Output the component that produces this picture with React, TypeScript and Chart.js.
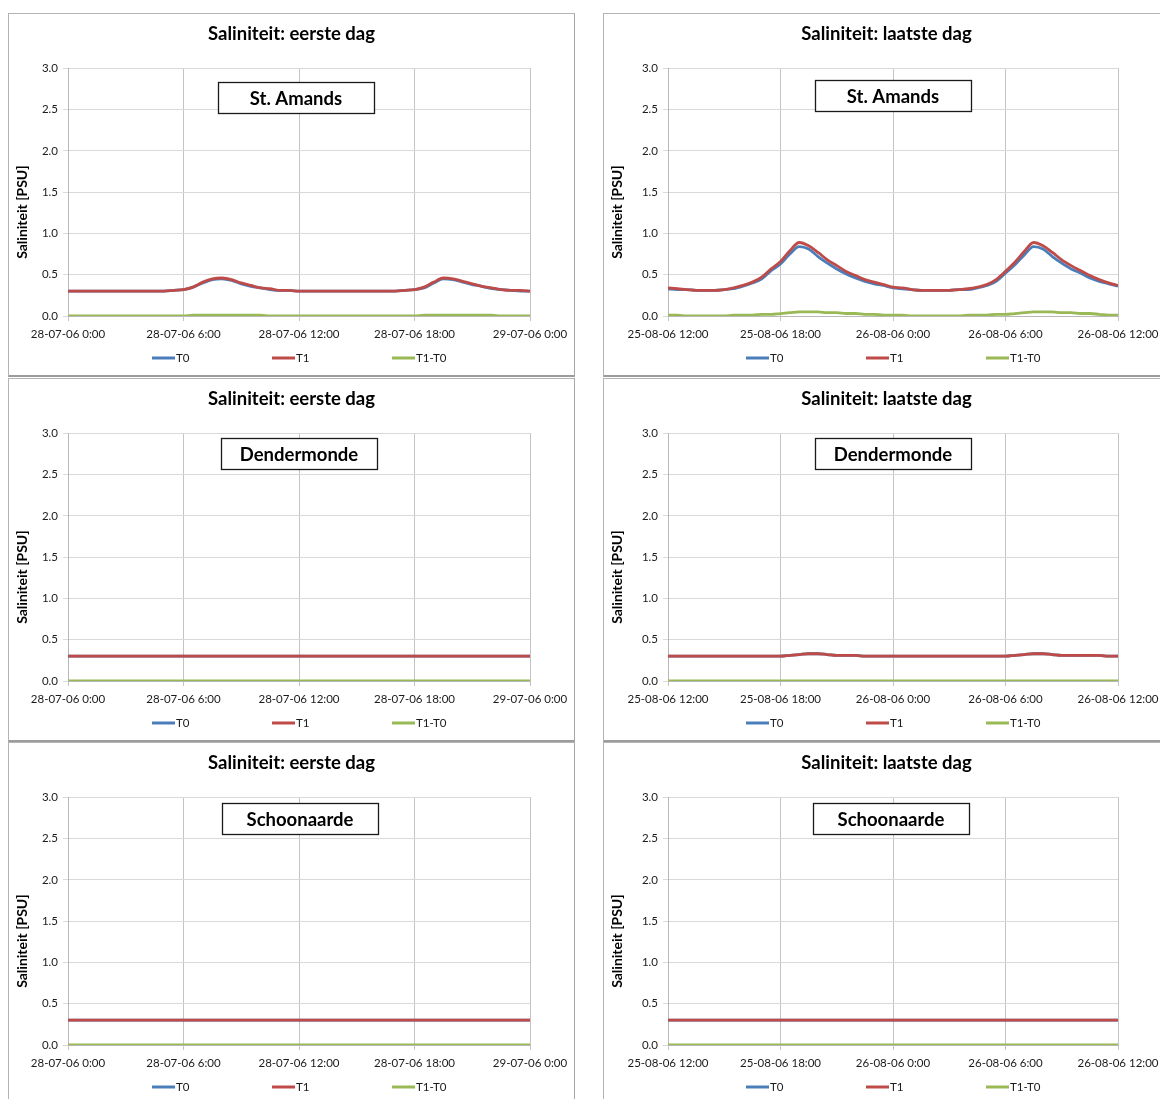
import React, { useEffect, useRef } from 'react';
import { Chart, registerables } from 'chart.js';

Chart.register(...registerables);

const FONT = "Lato, 'Open Sans', sans-serif";

// x positions in hours since the start of each window
const HOURS = [0, 0.5, 1, 1.5, 2, 2.5, 3, 3.5, 4, 4.5, 5, 5.5, 6, 6.5, 7, 7.5, 8, 8.5, 9, 9.5, 10, 10.5, 11, 11.5, 12, 12.5, 13, 13.5, 14, 14.5, 15, 15.5, 16, 16.5, 17, 17.5, 18, 18.5, 19, 19.5, 20, 20.5, 21, 21.5, 22, 22.5, 23, 23.5, 24];
const HOURS_HOURLY = [0, 1, 2, 3, 4, 5, 6, 7, 8, 9, 10, 11, 12, 13, 14, 15, 16, 17, 18, 19, 20, 21, 22, 23, 24];

const SERIES_LABELS = ['T0', 'T1', 'T1-T0'];
const SERIES_COLORS = ['#4a7ebb', '#be4b48', '#98b954'];

const TITLE_FIRST = 'Saliniteit: eerste dag';
const TITLE_LAST = 'Saliniteit: laatste dag';
const Y_TITLE = 'Saliniteit [PSU]';
const X_TICKS_FIRST = ['28-07-06 0:00', '28-07-06 6:00', '28-07-06 12:00', '28-07-06 18:00', '29-07-06 0:00'];
const X_TICKS_LAST = ['25-08-06 12:00', '25-08-06 18:00', '26-08-06 0:00', '26-08-06 6:00', '26-08-06 12:00'];

// St. Amands – first day (half-hourly)
const SA_FIRST_T0 = [0.30, 0.30, 0.30, 0.30, 0.30, 0.30, 0.30, 0.30, 0.30, 0.30, 0.30, 0.31, 0.32, 0.35, 0.40, 0.44, 0.45, 0.43, 0.39, 0.36, 0.34, 0.32, 0.31, 0.31, 0.30, 0.30, 0.30, 0.30, 0.30, 0.30, 0.30, 0.30, 0.30, 0.30, 0.30, 0.31, 0.32, 0.34, 0.40, 0.45, 0.44, 0.41, 0.38, 0.36, 0.33, 0.32, 0.31, 0.30, 0.30];
const SA_FIRST_T1 = [0.30, 0.30, 0.30, 0.30, 0.30, 0.30, 0.30, 0.30, 0.30, 0.30, 0.30, 0.31, 0.32, 0.35, 0.41, 0.45, 0.46, 0.44, 0.40, 0.37, 0.34, 0.33, 0.31, 0.31, 0.30, 0.30, 0.30, 0.30, 0.30, 0.30, 0.30, 0.30, 0.30, 0.30, 0.30, 0.31, 0.32, 0.35, 0.41, 0.46, 0.45, 0.42, 0.39, 0.36, 0.34, 0.32, 0.31, 0.31, 0.30];
const SA_FIRST_DIFF = [0.00, 0.00, 0.00, 0.00, 0.00, 0.00, 0.00, 0.00, 0.00, 0.00, 0.00, 0.00, 0.00, 0.01, 0.01, 0.01, 0.01, 0.01, 0.01, 0.01, 0.01, 0.00, 0.00, 0.00, 0.00, 0.00, 0.00, 0.00, 0.00, 0.00, 0.00, 0.00, 0.00, 0.00, 0.00, 0.00, 0.00, 0.01, 0.01, 0.01, 0.01, 0.01, 0.01, 0.01, 0.01, 0.00, 0.00, 0.00, 0.00];

// St. Amands – last day (half-hourly)
const SA_LAST_T0 = [0.33, 0.32, 0.32, 0.31, 0.31, 0.31, 0.32, 0.33, 0.36, 0.40, 0.45, 0.55, 0.63, 0.75, 0.84, 0.81, 0.72, 0.64, 0.57, 0.51, 0.46, 0.42, 0.39, 0.37, 0.34, 0.33, 0.32, 0.31, 0.31, 0.31, 0.31, 0.32, 0.32, 0.34, 0.37, 0.42, 0.52, 0.62, 0.74, 0.84, 0.81, 0.72, 0.64, 0.57, 0.52, 0.46, 0.42, 0.39, 0.36];
const SA_LAST_T1 = [0.34, 0.33, 0.32, 0.31, 0.31, 0.31, 0.32, 0.34, 0.37, 0.41, 0.47, 0.57, 0.66, 0.79, 0.89, 0.85, 0.77, 0.68, 0.61, 0.54, 0.49, 0.44, 0.41, 0.38, 0.35, 0.34, 0.32, 0.31, 0.31, 0.31, 0.31, 0.32, 0.33, 0.35, 0.38, 0.44, 0.54, 0.65, 0.78, 0.89, 0.85, 0.77, 0.68, 0.61, 0.55, 0.49, 0.44, 0.40, 0.37];
const SA_LAST_DIFF = [0.01, 0.01, 0.00, 0.00, 0.00, 0.00, 0.00, 0.01, 0.01, 0.01, 0.02, 0.02, 0.03, 0.04, 0.05, 0.05, 0.05, 0.04, 0.04, 0.03, 0.03, 0.02, 0.02, 0.01, 0.01, 0.01, 0.00, 0.00, 0.00, 0.00, 0.00, 0.00, 0.01, 0.01, 0.01, 0.02, 0.02, 0.03, 0.04, 0.05, 0.05, 0.05, 0.04, 0.04, 0.03, 0.03, 0.02, 0.01, 0.01];

// Dendermonde – first day (hourly)
const DM_FIRST_T0 = [0.30, 0.30, 0.30, 0.30, 0.30, 0.30, 0.30, 0.30, 0.30, 0.30, 0.30, 0.30, 0.30, 0.30, 0.30, 0.30, 0.30, 0.30, 0.30, 0.30, 0.30, 0.30, 0.30, 0.30, 0.30];
const DM_FIRST_T1 = [0.30, 0.30, 0.30, 0.30, 0.30, 0.30, 0.30, 0.30, 0.30, 0.30, 0.30, 0.30, 0.30, 0.30, 0.30, 0.30, 0.30, 0.30, 0.30, 0.30, 0.30, 0.30, 0.30, 0.30, 0.30];
const DM_FIRST_DIFF = [0.00, 0.00, 0.00, 0.00, 0.00, 0.00, 0.00, 0.00, 0.00, 0.00, 0.00, 0.00, 0.00, 0.00, 0.00, 0.00, 0.00, 0.00, 0.00, 0.00, 0.00, 0.00, 0.00, 0.00, 0.00];

// Dendermonde – last day (half-hourly; difference hourly)
const DM_LAST_T0 = [0.30, 0.30, 0.30, 0.30, 0.30, 0.30, 0.30, 0.30, 0.30, 0.30, 0.30, 0.30, 0.30, 0.31, 0.32, 0.33, 0.33, 0.32, 0.31, 0.31, 0.31, 0.30, 0.30, 0.30, 0.30, 0.30, 0.30, 0.30, 0.30, 0.30, 0.30, 0.30, 0.30, 0.30, 0.30, 0.30, 0.30, 0.31, 0.32, 0.33, 0.33, 0.32, 0.31, 0.31, 0.31, 0.31, 0.31, 0.30, 0.30];
const DM_LAST_T1 = [0.30, 0.30, 0.30, 0.30, 0.30, 0.30, 0.30, 0.30, 0.30, 0.30, 0.30, 0.30, 0.30, 0.31, 0.32, 0.33, 0.33, 0.32, 0.31, 0.31, 0.31, 0.30, 0.30, 0.30, 0.30, 0.30, 0.30, 0.30, 0.30, 0.30, 0.30, 0.30, 0.30, 0.30, 0.30, 0.30, 0.30, 0.31, 0.32, 0.33, 0.33, 0.32, 0.31, 0.31, 0.31, 0.31, 0.31, 0.30, 0.30];
const DM_LAST_DIFF = [0.00, 0.00, 0.00, 0.00, 0.00, 0.00, 0.00, 0.00, 0.00, 0.00, 0.00, 0.00, 0.00, 0.00, 0.00, 0.00, 0.00, 0.00, 0.00, 0.00, 0.00, 0.00, 0.00, 0.00, 0.00];

// Schoonaarde – first day (hourly)
const SC_FIRST_T0 = [0.30, 0.30, 0.30, 0.30, 0.30, 0.30, 0.30, 0.30, 0.30, 0.30, 0.30, 0.30, 0.30, 0.30, 0.30, 0.30, 0.30, 0.30, 0.30, 0.30, 0.30, 0.30, 0.30, 0.30, 0.30];
const SC_FIRST_T1 = [0.30, 0.30, 0.30, 0.30, 0.30, 0.30, 0.30, 0.30, 0.30, 0.30, 0.30, 0.30, 0.30, 0.30, 0.30, 0.30, 0.30, 0.30, 0.30, 0.30, 0.30, 0.30, 0.30, 0.30, 0.30];
const SC_FIRST_DIFF = [0.00, 0.00, 0.00, 0.00, 0.00, 0.00, 0.00, 0.00, 0.00, 0.00, 0.00, 0.00, 0.00, 0.00, 0.00, 0.00, 0.00, 0.00, 0.00, 0.00, 0.00, 0.00, 0.00, 0.00, 0.00];

// Schoonaarde – last day (hourly)
const SC_LAST_T0 = [0.30, 0.30, 0.30, 0.30, 0.30, 0.30, 0.30, 0.30, 0.30, 0.30, 0.30, 0.30, 0.30, 0.30, 0.30, 0.30, 0.30, 0.30, 0.30, 0.30, 0.30, 0.30, 0.30, 0.30, 0.30];
const SC_LAST_T1 = [0.30, 0.30, 0.30, 0.30, 0.30, 0.30, 0.30, 0.30, 0.30, 0.30, 0.30, 0.30, 0.30, 0.30, 0.30, 0.30, 0.30, 0.30, 0.30, 0.30, 0.30, 0.30, 0.30, 0.30, 0.30];
const SC_LAST_DIFF = [0.00, 0.00, 0.00, 0.00, 0.00, 0.00, 0.00, 0.00, 0.00, 0.00, 0.00, 0.00, 0.00, 0.00, 0.00, 0.00, 0.00, 0.00, 0.00, 0.00, 0.00, 0.00, 0.00, 0.00, 0.00];

type PanelCfg = {
  left: number;
  top: number;
  title: string;
  station: string;
  xTicks: string[];
  xs: number[][];
  ys: number[][];
  yWidth: number;
  padRight: number;
  boxDx: number;
  boxDy: number;
};

const PANELS: PanelCfg[] = [
  { left: 8, top: 13, title: TITLE_FIRST, station: 'St. Amands', xTicks: X_TICKS_FIRST, xs: [HOURS, HOURS, HOURS], ys: [SA_FIRST_T0, SA_FIRST_T1, SA_FIRST_DIFF], yWidth: 59, padRight: 44, boxDx: -3, boxDy: 14 },
  { left: 603, top: 13, title: TITLE_LAST, station: 'St. Amands', xTicks: X_TICKS_LAST, xs: [HOURS, HOURS, HOURS], ys: [SA_LAST_T0, SA_LAST_T1, SA_LAST_DIFF], yWidth: 64, padRight: 51, boxDx: 0, boxDy: 12 },
  { left: 8, top: 378, title: TITLE_FIRST, station: 'Dendermonde', xTicks: X_TICKS_FIRST, xs: [HOURS_HOURLY, HOURS_HOURLY, HOURS_HOURLY], ys: [DM_FIRST_T0, DM_FIRST_T1, DM_FIRST_DIFF], yWidth: 59, padRight: 44, boxDx: 0, boxDy: 5 },
  { left: 603, top: 378, title: TITLE_LAST, station: 'Dendermonde', xTicks: X_TICKS_LAST, xs: [HOURS, HOURS, HOURS_HOURLY], ys: [DM_LAST_T0, DM_LAST_T1, DM_LAST_DIFF], yWidth: 64, padRight: 51, boxDx: 0, boxDy: 5 },
  { left: 8, top: 742, title: TITLE_FIRST, station: 'Schoonaarde', xTicks: X_TICKS_FIRST, xs: [HOURS_HOURLY, HOURS_HOURLY, HOURS_HOURLY], ys: [SC_FIRST_T0, SC_FIRST_T1, SC_FIRST_DIFF], yWidth: 59, padRight: 44, boxDx: 1, boxDy: 6 },
  { left: 603, top: 742, title: TITLE_LAST, station: 'Schoonaarde', xTicks: X_TICKS_LAST, xs: [HOURS_HOURLY, HOURS_HOURLY, HOURS_HOURLY], ys: [SC_LAST_T0, SC_LAST_T1, SC_LAST_DIFF], yWidth: 64, padRight: 51, boxDx: -2, boxDy: 6 },
];

const DRAW_ORDER = [3, 2, 1];

const spacedLegend = {
  id: 'spacedLegend',
  afterDraw(chart: any, _args: any, opts: any) {
    const { ctx, chartArea } = chart;
    const cx = (chartArea.left + chartArea.right) / 2;
    const y = chartArea.bottom + opts.offsetY;
    ctx.save();
    ctx.font = `${opts.fontSize}px ${FONT}`;
    ctx.textBaseline = 'middle';
    ctx.textAlign = 'left';
    chart.data.datasets.forEach((ds: any, i: number) => {
      const x0 = cx - opts.groupHalf + i * opts.pitch;
      ctx.strokeStyle = ds.borderColor;
      ctx.lineWidth = 3;
      ctx.beginPath();
      ctx.moveTo(x0, y);
      ctx.lineTo(x0 + opts.lineLen, y);
      ctx.stroke();
      ctx.fillStyle = '#1a1a1a';
      ctx.fillText(ds.label, x0 + opts.lineLen + 1, y + 0.5);
    });
    ctx.restore();
  },
};

const stationBox = {
  id: 'stationBox',
  afterDraw(chart: any, _args: any, opts: any) {
    const { ctx, chartArea } = chart;
    const cx = (chartArea.left + chartArea.right) / 2 + opts.dx;
    const top = chartArea.top + opts.dy;
    const w = 156;
    const h = 31;
    ctx.save();
    ctx.fillStyle = '#ffffff';
    ctx.fillRect(cx - w / 2, top, w, h);
    ctx.strokeStyle = '#1a1a1a';
    ctx.lineWidth = 1.3;
    ctx.strokeRect(Math.round(cx - w / 2) + 0.5, Math.round(top) + 0.5, w, h);
    ctx.fillStyle = '#000000';
    ctx.font = `bold 18.5px ${FONT}`;
    ctx.textAlign = 'center';
    ctx.textBaseline = 'middle';
    ctx.fillText(opts.text, cx, top + h / 2 + 1);
    ctx.restore();
  },
};

// vertical axis title, drawn a little below the middle of the plot as in the original
const axisTitle = {
  id: 'axisTitle',
  afterDraw(chart: any, _args: any, opts: any) {
    const { ctx, chartArea } = chart;
    ctx.save();
    ctx.translate(opts.x, (chartArea.top + chartArea.bottom) / 2 + opts.dy);
    ctx.rotate(-Math.PI / 2);
    ctx.font = `bold ${opts.size}px ${FONT}`;
    ctx.fillStyle = '#000';
    ctx.textAlign = 'center';
    ctx.textBaseline = 'middle';
    ctx.fillText(opts.text, 0, 0);
    ctx.restore();
  },
};

const CANVAS_W = 565;
const CANVAS_H = 361;

function Panel({ cfg }: { cfg: PanelCfg }) {
  const ref = useRef<HTMLCanvasElement>(null);
  useEffect(() => {
    const chart = new Chart(ref.current as HTMLCanvasElement, {
      type: 'line',
      data: {
        datasets: SERIES_LABELS.map((label, i) => ({
          label,
          data: cfg.xs[i].map((x, j) => ({ x, y: cfg.ys[i][j] })),
          borderColor: SERIES_COLORS[i],
          backgroundColor: SERIES_COLORS[i],
          borderWidth: 2.8,
          pointRadius: 0,
          cubicInterpolationMode: 'monotone',
          order: DRAW_ORDER[i],
        })),
      },
      options: {
        animation: false,
        responsive: false,
        maintainAspectRatio: false,
        layout: { padding: { left: 0, right: 0, top: 0, bottom: 35 } },
        plugins: {
          legend: { display: false },
          tooltip: { enabled: false },
          title: {
            display: true,
            text: cfg.title,
            color: '#000',
            font: { family: FONT, size: 18.5, weight: 'bold' },
            padding: { top: 9, bottom: 23 },
          },
          spacedLegend: { offsetY: 42, groupHalf: 147, pitch: 120, lineLen: 23, fontSize: 11.5 },
          stationBox: { text: cfg.station, dx: cfg.boxDx, dy: cfg.boxDy },
          axisTitle: { text: Y_TITLE, x: 13, dy: 20, size: 14 },
        } as any,
        scales: {
          x: {
            type: 'linear',
            min: 0,
            max: 24,
            afterFit: (s: any) => { s.height = 24; },
            ticks: {
              stepSize: 6,
              autoSkip: false,
              maxRotation: 0,
              color: '#1a1a1a',
              font: { family: FONT, size: 11.5 },
              padding: 6,
              callback: (v: any) => cfg.xTicks[Math.round(Number(v) / 6)],
            },
            grid: { color: '#c4c4c4', tickLength: 5 },
            border: { color: '#b8b8b8' },
          },
          y: {
            min: 0,
            max: 3,
            afterFit: (s: any) => { s.width = cfg.yWidth; },
            ticks: {
              stepSize: 0.5,
              color: '#1a1a1a',
              font: { family: FONT, size: 11.5 },
              padding: 5,
              callback: (v: any) => Number(v).toFixed(1),
            },
            grid: { color: '#d9d9d9', tickLength: 5 },
            border: { color: '#b8b8b8' },
          },
          // empty right-hand margin, kept as an invisible axis so the title stays centred on the panel
          yMargin: {
            type: 'linear',
            position: 'right',
            min: 0,
            max: 3,
            afterFit: (s: any) => { s.width = cfg.padRight; },
            ticks: { display: false },
            grid: { display: false, drawTicks: false },
            border: { display: false },
          },
        },
      } as any,
      plugins: [spacedLegend, stationBox, axisTitle],
    });
    return () => chart.destroy();
  }, [cfg]);
  return (
    <div
      style={{
        position: 'absolute',
        left: cfg.left,
        top: cfg.top,
        width: CANVAS_W + 2,
        height: CANVAS_H + 3,
        boxSizing: 'border-box',
        borderLeft: '1px solid #b4b4b4',
        borderTop: '1px solid #b4b4b4',
        borderRight: '1px solid #a8a8a8',
        borderBottom: '2px solid #9c9c9c',
        background: '#fff',
      }}
    >
      <canvas ref={ref} width={CANVAS_W} height={CANVAS_H} style={{ display: 'block', width: CANVAS_W, height: CANVAS_H }} />
    </div>
  );
}

export default function App() {
  return (
    <div style={{ position: 'fixed', left: 0, top: 0, width: 1160, height: 1099, overflow: 'hidden', background: '#fff' }}>
      {PANELS.map((p, i) => (
        <Panel key={i} cfg={p} />
      ))}
    </div>
  );
}
